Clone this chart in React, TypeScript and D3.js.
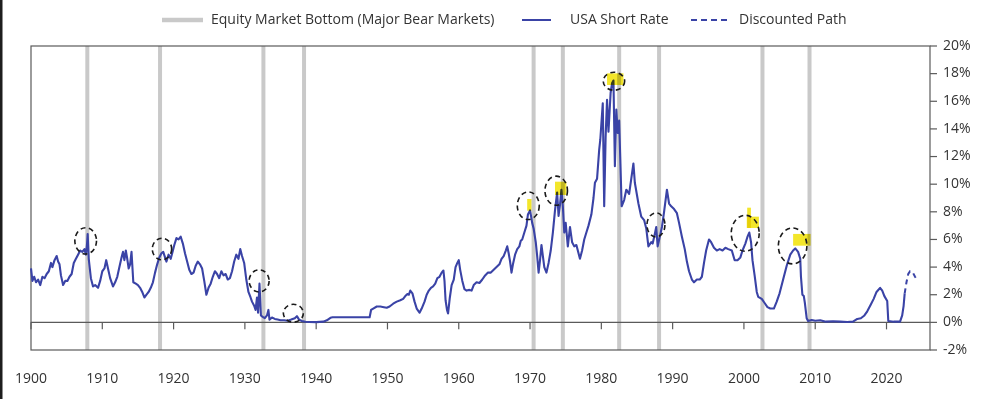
import React from "react";
import * as d3 from "d3";

// USA short rate, % (year, rate)
const shortRate: [number, number][] = [
  [1900.0, 3.9], [1900.2, 3.0], [1900.45, 3.3], [1900.7, 2.9], [1901.0, 3.1], [1901.3, 2.7],
  [1901.6, 3.3], [1901.9, 3.2], [1902.2, 3.5], [1902.5, 3.7], [1902.8, 4.3], [1903.0, 4.0],
  [1903.3, 4.5], [1903.6, 4.8], [1903.8, 4.4], [1904.0, 4.2], [1904.2, 3.4], [1904.5, 2.7],
  [1904.8, 3.0], [1905.1, 3.0], [1905.4, 3.3], [1905.7, 3.5], [1906.0, 4.3], [1906.3, 4.6],
  [1906.6, 4.9], [1906.9, 5.2], [1907.2, 5.1], [1907.5, 5.3], [1907.7, 4.9], [1907.85, 5.6],
  [1907.95, 6.4], [1908.1, 4.6], [1908.4, 3.2], [1908.7, 2.6], [1909.0, 2.7], [1909.4, 2.5],
  [1909.7, 3.0], [1910.0, 3.7], [1910.3, 3.9], [1910.55, 4.5], [1910.8, 3.9], [1911.1, 3.2],
  [1911.5, 2.6], [1911.8, 2.9], [1912.1, 3.3], [1912.4, 4.0], [1912.7, 4.7], [1912.9, 5.1],
  [1913.1, 4.5], [1913.3, 5.2], [1913.5, 4.6], [1913.7, 3.9], [1913.9, 4.2], [1914.1, 5.1],
  [1914.35, 2.9], [1914.7, 2.8], [1915.0, 2.7], [1915.3, 2.5], [1915.6, 2.2], [1915.9, 1.8],
  [1916.2, 2.0], [1916.5, 2.2], [1916.8, 2.5], [1917.1, 2.9], [1917.4, 3.6], [1917.7, 4.2],
  [1918.0, 4.7], [1918.3, 5.0], [1918.55, 5.1], [1918.8, 4.7], [1919.0, 4.4], [1919.3, 4.9],
  [1919.6, 4.6], [1919.85, 5.1], [1920.1, 5.6], [1920.4, 6.1], [1920.7, 6.0], [1921.0, 6.2],
  [1921.3, 5.7], [1921.6, 5.0], [1921.9, 4.4], [1922.2, 3.8], [1922.5, 3.5], [1922.8, 3.6],
  [1923.1, 4.1], [1923.4, 4.4], [1923.7, 4.2], [1924.0, 3.9], [1924.3, 3.0], [1924.6, 2.0],
  [1924.9, 2.5], [1925.2, 2.8], [1925.5, 3.3], [1925.8, 3.7], [1926.1, 3.5], [1926.4, 3.2],
  [1926.7, 3.7], [1927.0, 3.4], [1927.3, 3.5], [1927.6, 3.1], [1927.9, 3.2], [1928.2, 3.7],
  [1928.5, 4.4], [1928.8, 4.9], [1929.1, 4.6], [1929.35, 5.3], [1929.6, 4.8], [1929.9, 4.3],
  [1930.2, 3.1], [1930.5, 2.2], [1930.8, 1.8], [1931.0, 1.5], [1931.3, 1.2], [1931.5, 0.9],
  [1931.7, 1.8], [1931.85, 0.7], [1932.05, 2.8], [1932.25, 0.5], [1932.5, 0.4], [1932.8, 0.3],
  [1933.1, 0.5], [1933.3, 0.9], [1933.45, 0.2], [1933.8, 0.35], [1934.2, 0.25], [1934.6, 0.2],
  [1935.0, 0.15], [1935.5, 0.15], [1936.0, 0.12], [1936.5, 0.2], [1937.0, 0.3], [1937.3, 0.45],
  [1937.6, 0.2], [1938.0, 0.1], [1938.5, 0.05], [1939.0, 0.03], [1940.0, 0.02], [1941.0, 0.05],
  [1941.5, 0.15], [1942.0, 0.33], [1942.3, 0.37], [1947.5, 0.37], [1947.7, 0.9], [1948.0, 1.0],
  [1948.5, 1.15], [1949.0, 1.15], [1949.5, 1.1], [1949.9, 1.06], [1950.3, 1.15], [1950.8, 1.35],
  [1951.3, 1.5], [1951.8, 1.6], [1952.2, 1.7], [1952.5, 1.9], [1952.8, 2.05], [1953.0, 2.0],
  [1953.2, 2.3], [1953.5, 2.1], [1953.8, 1.5], [1954.1, 1.0], [1954.5, 0.7], [1954.8, 1.0],
  [1955.2, 1.5], [1955.5, 2.0], [1955.8, 2.3], [1956.1, 2.5], [1956.4, 2.6], [1956.7, 2.8],
  [1957.0, 3.2], [1957.3, 3.3], [1957.6, 3.6], [1957.85, 3.75], [1958.0, 3.0], [1958.15, 1.6],
  [1958.35, 0.9], [1958.5, 0.65], [1958.75, 1.8], [1959.0, 2.7], [1959.3, 3.1], [1959.55, 4.0],
  [1959.8, 4.3], [1960.0, 4.5], [1960.2, 3.8], [1960.5, 3.0], [1960.8, 2.4], [1961.1, 2.3],
  [1961.5, 2.35], [1961.8, 2.3], [1962.1, 2.7], [1962.5, 2.9], [1962.9, 2.85], [1963.3, 3.1],
  [1963.7, 3.4], [1964.1, 3.6], [1964.5, 3.6], [1964.9, 3.8], [1965.3, 4.0], [1965.7, 4.2],
  [1966.0, 4.6], [1966.3, 4.8], [1966.6, 5.2], [1966.8, 5.5], [1967.0, 5.0], [1967.2, 4.4],
  [1967.4, 3.6], [1967.6, 4.2], [1967.9, 4.9], [1968.2, 5.3], [1968.5, 5.5], [1968.7, 5.9],
  [1968.9, 6.0], [1969.2, 6.5], [1969.5, 7.0], [1969.7, 7.8], [1970.0, 8.1], [1970.3, 7.2],
  [1970.5, 6.8], [1970.8, 5.8], [1971.0, 4.8], [1971.2, 3.6], [1971.4, 4.5], [1971.6, 5.6],
  [1971.8, 4.8], [1972.0, 4.0], [1972.3, 3.6], [1972.6, 4.3], [1972.9, 5.2], [1973.2, 6.5],
  [1973.5, 8.1], [1973.8, 9.4], [1974.0, 7.7], [1974.2, 8.5], [1974.4, 9.6], [1974.6, 8.4],
  [1974.8, 6.5], [1975.0, 7.2], [1975.3, 5.5], [1975.6, 6.9], [1975.9, 5.8], [1976.2, 5.5],
  [1976.5, 5.6], [1976.8, 5.0], [1977.0, 4.6], [1977.3, 5.2], [1977.6, 6.0], [1977.9, 6.5],
  [1978.2, 7.0], [1978.6, 7.8], [1978.9, 9.0], [1979.1, 10.1], [1979.4, 10.4], [1979.7, 12.5],
  [1979.85, 13.2], [1980.2, 15.85], [1980.4, 8.4], [1980.6, 13.4], [1980.8, 16.1], [1981.0, 13.8],
  [1981.3, 16.6], [1981.5, 17.3], [1981.7, 17.5], [1981.9, 11.3], [1982.1, 15.4], [1982.3, 13.7],
  [1982.5, 14.6], [1982.85, 8.4], [1983.2, 8.85], [1983.5, 9.6], [1983.9, 9.3], [1984.2, 10.4],
  [1984.5, 11.5], [1984.7, 10.1], [1985.2, 8.6], [1985.6, 7.65], [1986.0, 7.4], [1986.3, 6.8],
  [1986.6, 5.5], [1987.0, 5.8], [1987.2, 5.7], [1987.5, 6.4], [1987.7, 6.9], [1987.9, 5.5],
  [1988.2, 6.2], [1988.5, 6.9], [1988.8, 8.0], [1989.2, 9.6], [1989.5, 8.6], [1989.8, 8.4],
  [1990.2, 8.2], [1990.6, 7.9], [1990.9, 7.2], [1991.3, 6.2], [1991.7, 5.3], [1992.0, 4.4],
  [1992.3, 3.7], [1992.7, 3.1], [1993.0, 2.9], [1993.4, 3.1], [1993.8, 3.1], [1994.1, 3.3],
  [1994.4, 4.3], [1994.7, 5.2], [1995.1, 6.0], [1995.4, 5.8], [1995.8, 5.4], [1996.2, 5.2],
  [1996.6, 5.3], [1997.0, 5.2], [1997.4, 5.4], [1997.8, 5.3], [1998.3, 5.2], [1998.7, 4.5],
  [1999.1, 4.5], [1999.5, 4.7], [1999.8, 5.2], [2000.2, 5.7], [2000.5, 6.2], [2000.75, 6.5],
  [2001.0, 5.8], [2001.2, 4.5], [2001.5, 3.4], [2001.8, 2.2], [2002.0, 1.85], [2002.5, 1.7],
  [2002.9, 1.4], [2003.3, 1.1], [2003.7, 1.0], [2004.2, 1.0], [2004.6, 1.5], [2005.0, 2.1],
  [2005.5, 3.1], [2006.0, 4.1], [2006.5, 4.9], [2006.9, 5.2], [2007.2, 5.35], [2007.6, 5.1],
  [2007.9, 4.6], [2008.0, 3.3], [2008.2, 2.0], [2008.4, 1.9], [2008.55, 1.4], [2008.8, 0.3],
  [2009.0, 0.1], [2009.5, 0.17], [2010.0, 0.12], [2010.7, 0.15], [2011.5, 0.05], [2012.5, 0.08],
  [2013.5, 0.05], [2014.5, 0.03], [2015.3, 0.05], [2015.9, 0.25], [2016.4, 0.3], [2016.9, 0.5],
  [2017.3, 0.8], [2017.8, 1.3], [2018.2, 1.7], [2018.6, 2.2], [2019.1, 2.5], [2019.4, 2.3],
  [2019.7, 1.9], [2020.1, 1.55], [2020.25, 0.1], [2021.0, 0.05], [2021.9, 0.05], [2022.2, 0.5],
  [2022.4, 1.2], [2022.55, 2.1],
];

const discountedPath: [number, number][] = [
  [2022.55, 2.1], [2022.8, 2.9], [2023.05, 3.5], [2023.3, 3.7], [2023.7, 3.6], [2024.0, 3.3], [2024.4, 3.0],
];

// equity market bottoms (major bear markets)
const bearBottoms = [1907.9, 1918.1, 1932.6, 1938.3, 1970.5, 1974.6, 1982.5, 1988.1, 2002.6, 2009.2];

// dashed rings: year, rate, half-width (years), half-height (pct pts)
const rings: [number, number, number, number][] = [
  [1907.67, 5.9, 1.52, 0.95], [1918.37, 5.31, 1.36, 0.78], [1932.0, 3.0, 1.4, 0.8],
  [1936.8, 0.66, 1.4, 0.65], [1969.75, 8.44, 1.54, 1.0], [1973.67, 9.53, 1.58, 1.05],
  [1981.77, 17.45, 1.5, 0.65], [1987.66, 7.05, 1.26, 0.87], [2000.18, 6.45, 1.96, 1.3],
  [2006.83, 5.53, 2.0, 1.3],
];

// yellow highlights: year from, year to, rate from, rate to
const highlights: [number, number, number, number][] = [
  [1969.6, 1970.2, 8.08, 8.93], [1973.5, 1975.1, 9.22, 10.18], [1980.8, 1983.1, 17.18, 18.02],
  [2000.46, 2000.98, 6.83, 8.3], [2000.4, 2002.1, 6.83, 7.65], [2006.9, 2009.35, 5.55, 6.4],
];

const yearTicks = d3.range(1900, 2021, 10);
const rateTicks = d3.range(-2, 21, 2);

const W = 986;
const H = 399;
const left = 31;
const right = 930;
const top = 46;
const bottom = 350;
const blue = "#3a43a6";
const grey = "#c9c9c9";
const axisCol = "#5a5a5a";
const font = "'Open Sans', sans-serif";

export default function App() {
  const x = d3.scaleLinear().domain([1900, 2026.1]).range([left, right]);
  const y = d3.scaleLinear().domain([-2, 20]).range([bottom, top]);

  const line = d3
    .line<[number, number]>()
    .x((d) => x(d[0]))
    .y((d) => y(d[1]));

  return (
    <svg
      width={W}
      height={H}
      style={{ position: "absolute", left: 0, top: 0, background: "#fff" }}
      fontFamily={font}
    >
      <rect x={0} y={0} width={2.5} height={H} fill="#1e1e1e" />

      {/* legend */}
      <g fontSize={14} fill="#333">
        <line x1={162} x2={203} y1={20} y2={20} stroke={grey} strokeWidth={4.5} />
        <text x={211} y={20} dominantBaseline="middle">Equity Market Bottom (Major Bear Markets)</text>
        <line x1={522} x2={551} y1={20} y2={20} stroke={blue} strokeWidth={2} />
        <text x={570} y={20} dominantBaseline="middle">USA Short Rate</text>
        <line x1={691} x2={731} y1={20} y2={20} stroke={blue} strokeWidth={2} strokeDasharray="6 4" />
        <text x={739} y={20} dominantBaseline="middle">Discounted Path</text>
      </g>

      {/* bear market bottoms */}
      {bearBottoms.map((b) => (
        <line key={b} x1={x(b)} x2={x(b)} y1={top} y2={bottom} stroke={grey} strokeWidth={4} />
      ))}

      {/* frame */}
      <rect x={left} y={top} width={right - left} height={bottom - top} fill="none" stroke={axisCol} strokeWidth={1.2} />

      {/* zero line + year ticks */}
      <line x1={left} x2={right} y1={y(0)} y2={y(0)} stroke={axisCol} strokeWidth={1.2} />
      {yearTicks.map((t) => (
        <g key={t}>
          <line x1={x(t)} x2={x(t)} y1={y(0)} y2={y(0) + 7} stroke={axisCol} strokeWidth={1.2} />
          <text x={x(t)} y={379} textAnchor="middle" dominantBaseline="middle" fontSize={14} fill="#333">
            {t}
          </text>
        </g>
      ))}

      {/* right axis */}
      {rateTicks.map((t) => (
        <g key={t}>
          <line x1={right} x2={right + 7} y1={y(t)} y2={y(t)} stroke={axisCol} strokeWidth={1.2} />
          <text x={right + 13} y={y(t)} dominantBaseline="middle" fontSize={14} fill="#333">
            {`${t}%`}
          </text>
        </g>
      ))}

      {/* series */}
      <path d={line(shortRate) ?? ""} fill="none" stroke={blue} strokeWidth={2.1} strokeLinejoin="round" />
      <path d={line(discountedPath) ?? ""} fill="none" stroke={blue} strokeWidth={2} strokeDasharray="5 4" />

      {/* highlights */}
      {highlights.map((h, i) => (
        <rect
          key={i}
          x={x(h[0])}
          y={y(h[3])}
          width={x(h[1]) - x(h[0])}
          height={y(h[2]) - y(h[3])}
          fill="#f3e62a"
          style={{ mixBlendMode: "multiply" }}
        />
      ))}

      {/* rings */}
      {rings.map((r, i) => (
        <ellipse
          key={i}
          cx={x(r[0])}
          cy={y(r[1])}
          rx={x(r[0] + r[2]) - x(r[0])}
          ry={y(r[1] - r[3]) - y(r[1])}
          fill="none"
          stroke="#1a1a1a"
          strokeWidth={1.6}
          strokeDasharray="5 3.5"
        />
      ))}
    </svg>
  );
}
